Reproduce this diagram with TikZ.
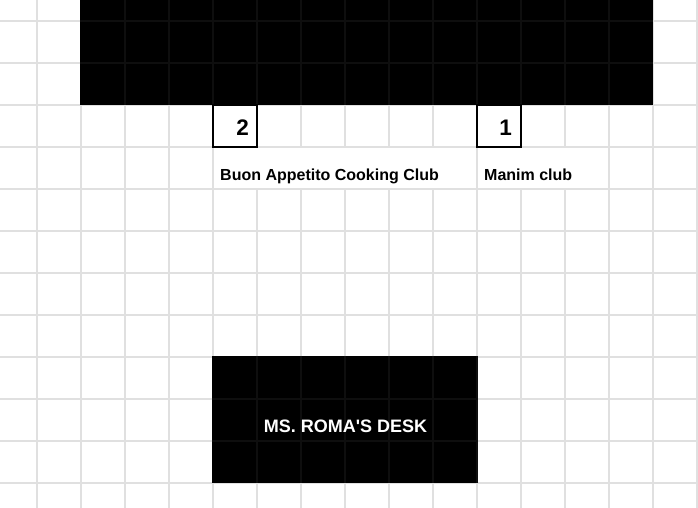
\documentclass[tikz,border=0pt]{standalone}
\usepackage{fontspec}
\setmainfont{Liberation Sans}
\newfontfamily\plainsans{Liberation Sans}
\definecolor{gridgray}{HTML}{E0E0E0}
\definecolor{innergrid}{HTML}{0E0E0E}
\begin{document}
\begin{tikzpicture}[x=1pt,y=-1pt,
  gridline/.style={draw=gridgray,line width=1.3pt},
  darkline/.style={draw=innergrid,line width=1.1pt},
  blockfill/.style={fill=black,draw=none,inner sep=0pt,outer sep=0pt},
  numbox/.style={draw=black,line width=1.5pt,fill=white},
  labeltext/.style={font=\fontsize{16}{16}\selectfont\bfseries,inner sep=0pt,anchor=base west},
  numtext/.style={font=\fontsize{22.5}{22.5}\selectfont\bfseries,inner sep=0pt,anchor=base east},
  desktext/.style={font=\plainsans\fontsize{18}{18}\selectfont\bfseries,text=white,inner sep=0pt,anchor=base}]
\useasboundingbox (0,0) rectangle (698,508);
\fill[white] (0,0) rectangle (698,508);
% background grid
\foreach \i in {0,...,15} {\draw[gridline] ({37+44*\i},0) -- ({37+44*\i},508);}
\foreach \j in {0,...,11} {\draw[gridline] (0,{21+42*\j}) -- (698,{21+42*\j});}
% merged label cells
\fill[white] (213.7,147.7) rectangle (476.3,188.3);
\fill[white] (477.7,147.7) rectangle (608.3,188.3);
% top black block
\node[blockfill,minimum width=573pt,minimum height=105pt,anchor=north west] (board) at (80,0) {};
\begin{scope}
\clip (80,0) rectangle (653,105);
\foreach \i in {2,...,13} {\draw[darkline] ({37+44*\i},0) -- ({37+44*\i},105);}
\foreach \j in {0,1} {\draw[darkline] (80,{21+42*\j}) -- (653,{21+42*\j});}
\end{scope}
% desk block
\node[blockfill,minimum width=266pt,minimum height=127pt,anchor=north west] (desk) at (212,356) {};
\begin{scope}
\clip (212,356) rectangle (478,483);
\foreach \i in {5,...,10} {\draw[darkline] ({37+44*\i},356) -- ({37+44*\i},483);}
\foreach \j in {9,10} {\draw[darkline] (212,{21+42*\j}) -- (478,{21+42*\j});}
\end{scope}
% number boxes
\draw[numbox] (213,105) rectangle (257,147);
\draw[numbox] (477,105) rectangle (521,147);
\node[numtext] (n2) at (249,135.7) {2};
\node[numtext] (n1) at (512,135.7) {1};
% labels
\node[labeltext] (buon) at (220,180) {Buon Appetito Cooking Club};
\node[labeltext] (manim) at (484,180) {Manim club};
\node[desktext] (desklabel) at (345.5,432) {MS. ROMA'S DESK};
\end{tikzpicture}
\end{document}
